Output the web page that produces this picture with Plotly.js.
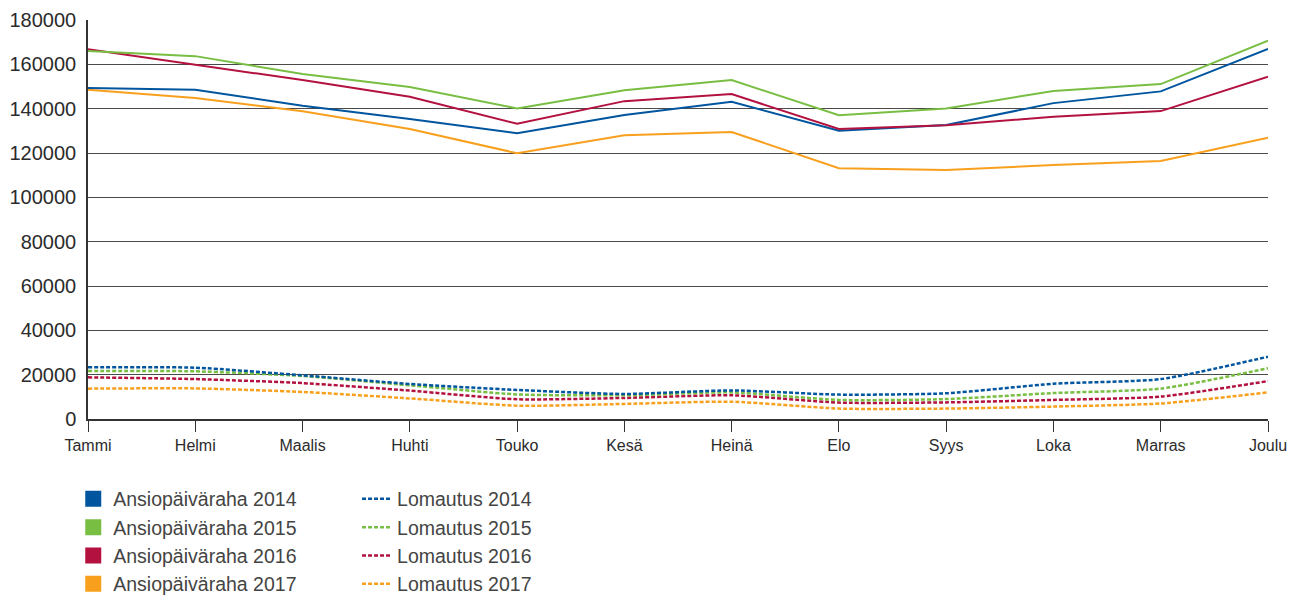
<!DOCTYPE html>
<html>
<head>
<meta charset="utf-8">
<script src="https://cdn.plot.ly/plotly-3.0.1.min.js"></script>
<style>
  html, body { margin: 0; padding: 0; background: #fff; }
  #chart { width: 1303px; height: 595px; }
</style>
</head>
<body>
<div id="chart"></div>
<script>
const months = ['Tammi','Helmi','Maalis','Huhti','Touko','Kesä','Heinä','Elo','Syys','Loka','Marras','Joulu'];

const ansio2014 = [149300,148500,141300,135300,128900,137100,143100,130000,132600,142500,147800,167000];
const ansio2015 = [166000,163700,155600,149800,140100,148300,152900,137000,140100,148000,151100,170700];
const ansio2016 = [166800,159700,152900,145400,133200,143400,146600,130800,132500,136400,138900,154400];
const ansio2017 = [148500,144800,138800,130800,119900,128000,129500,113100,112300,114600,116400,126900];

const loma2014 = [23300,23150,19700,15800,13100,11300,12900,11000,11600,15900,18000,28100];
const loma2015 = [21650,21500,19400,15200,11100,10700,12000,8600,9000,11700,13700,22900];
const loma2016 = [18800,18000,16200,12800,8900,9500,10700,7400,7500,8600,10100,17100];
const loma2017 = [13700,13800,12200,9300,6000,6800,7800,4700,4700,5600,7000,12000];

const colors = ['#00559f', '#78be43', '#b3113f', '#f8a01d'];
const years = ['2014','2015','2016','2017'];
const ansio = [ansio2014, ansio2015, ansio2016, ansio2017];
const loma = [loma2014, loma2015, loma2016, loma2017];

const traces = [];
[3,2,1,0].forEach(i => {
  traces.push({
    x: months, y: loma[i], type: 'scatter', mode: 'lines',
    name: 'Lomautus ' + years[i],
    line: {color: colors[i], width: 2.5, dash: '4px,2px', shape: 'spline', smoothing: 0.6},
    legend: 'legend2', legendrank: i + 1
  });
});
[3,0,2,1].forEach(i => {
  traces.push({
    x: months, y: ansio[i], type: 'scatter', mode: 'lines',
    name: 'Ansiopäiväraha ' + years[i],
    line: {color: colors[i], width: 2},
    showlegend: false
  });
});
[0,1,2,3].forEach(i => {
  traces.push({
    x: [null], y: [null], type: 'scatter', mode: 'markers',
    name: 'Ansiopäiväraha ' + years[i],
    marker: {symbol: 'square', size: 16, color: colors[i]},
    legend: 'legend', legendrank: i + 1
  });
});

const legendFont = {family: 'Liberation Sans, Arial, sans-serif', size: 19.5, color: '#444'};

const layout = {
  width: 1303, height: 595,
  margin: {l: 88, r: 35, t: 20, b: 176, autoexpand: false},
  paper_bgcolor: '#fff', plot_bgcolor: '#fff',
  showlegend: true,
  xaxis: {
    type: 'category', range: [0, 11],
    showgrid: false, zeroline: false,
    showline: true, linecolor: '#333', linewidth: 1.5,
    ticks: 'outside', ticklen: 11, tickwidth: 1.2, tickcolor: '#333',
    tickfont: {family: 'Liberation Sans, Arial, sans-serif', size: 16, color: '#2b2b2b'},
    fixedrange: true, automargin: false
  },
  yaxis: {
    range: [0, 180000], dtick: 20000, tick0: 0, tickformat: 'd',
    showgrid: true, gridcolor: '#4a4a4a', gridwidth: 1,
    zeroline: false,
    showline: true, linecolor: '#333', linewidth: 1.5,
    ticks: '', ticklabelstandoff: 6,
    tickfont: {family: 'Liberation Sans, Arial, sans-serif', size: 20, color: '#2b2b2b'},
    fixedrange: true, automargin: false
  },
  legend: {
    x: -0.0125, y: -0.152, xanchor: 'left', yanchor: 'top',
    orientation: 'v', font: legendFont, bgcolor: 'rgba(0,0,0,0)',
    tracegroupgap: 0, itemclick: false, itemdoubleclick: false
  },
  legend2: {
    x: 0.228, y: -0.152, xanchor: 'left', yanchor: 'top',
    orientation: 'v', font: legendFont, bgcolor: 'rgba(0,0,0,0)',
    tracegroupgap: 0, itemclick: false, itemdoubleclick: false
  }
};

Plotly.newPlot('chart', traces, layout, {displayModeBar: false});
</script>
</body>
</html>
